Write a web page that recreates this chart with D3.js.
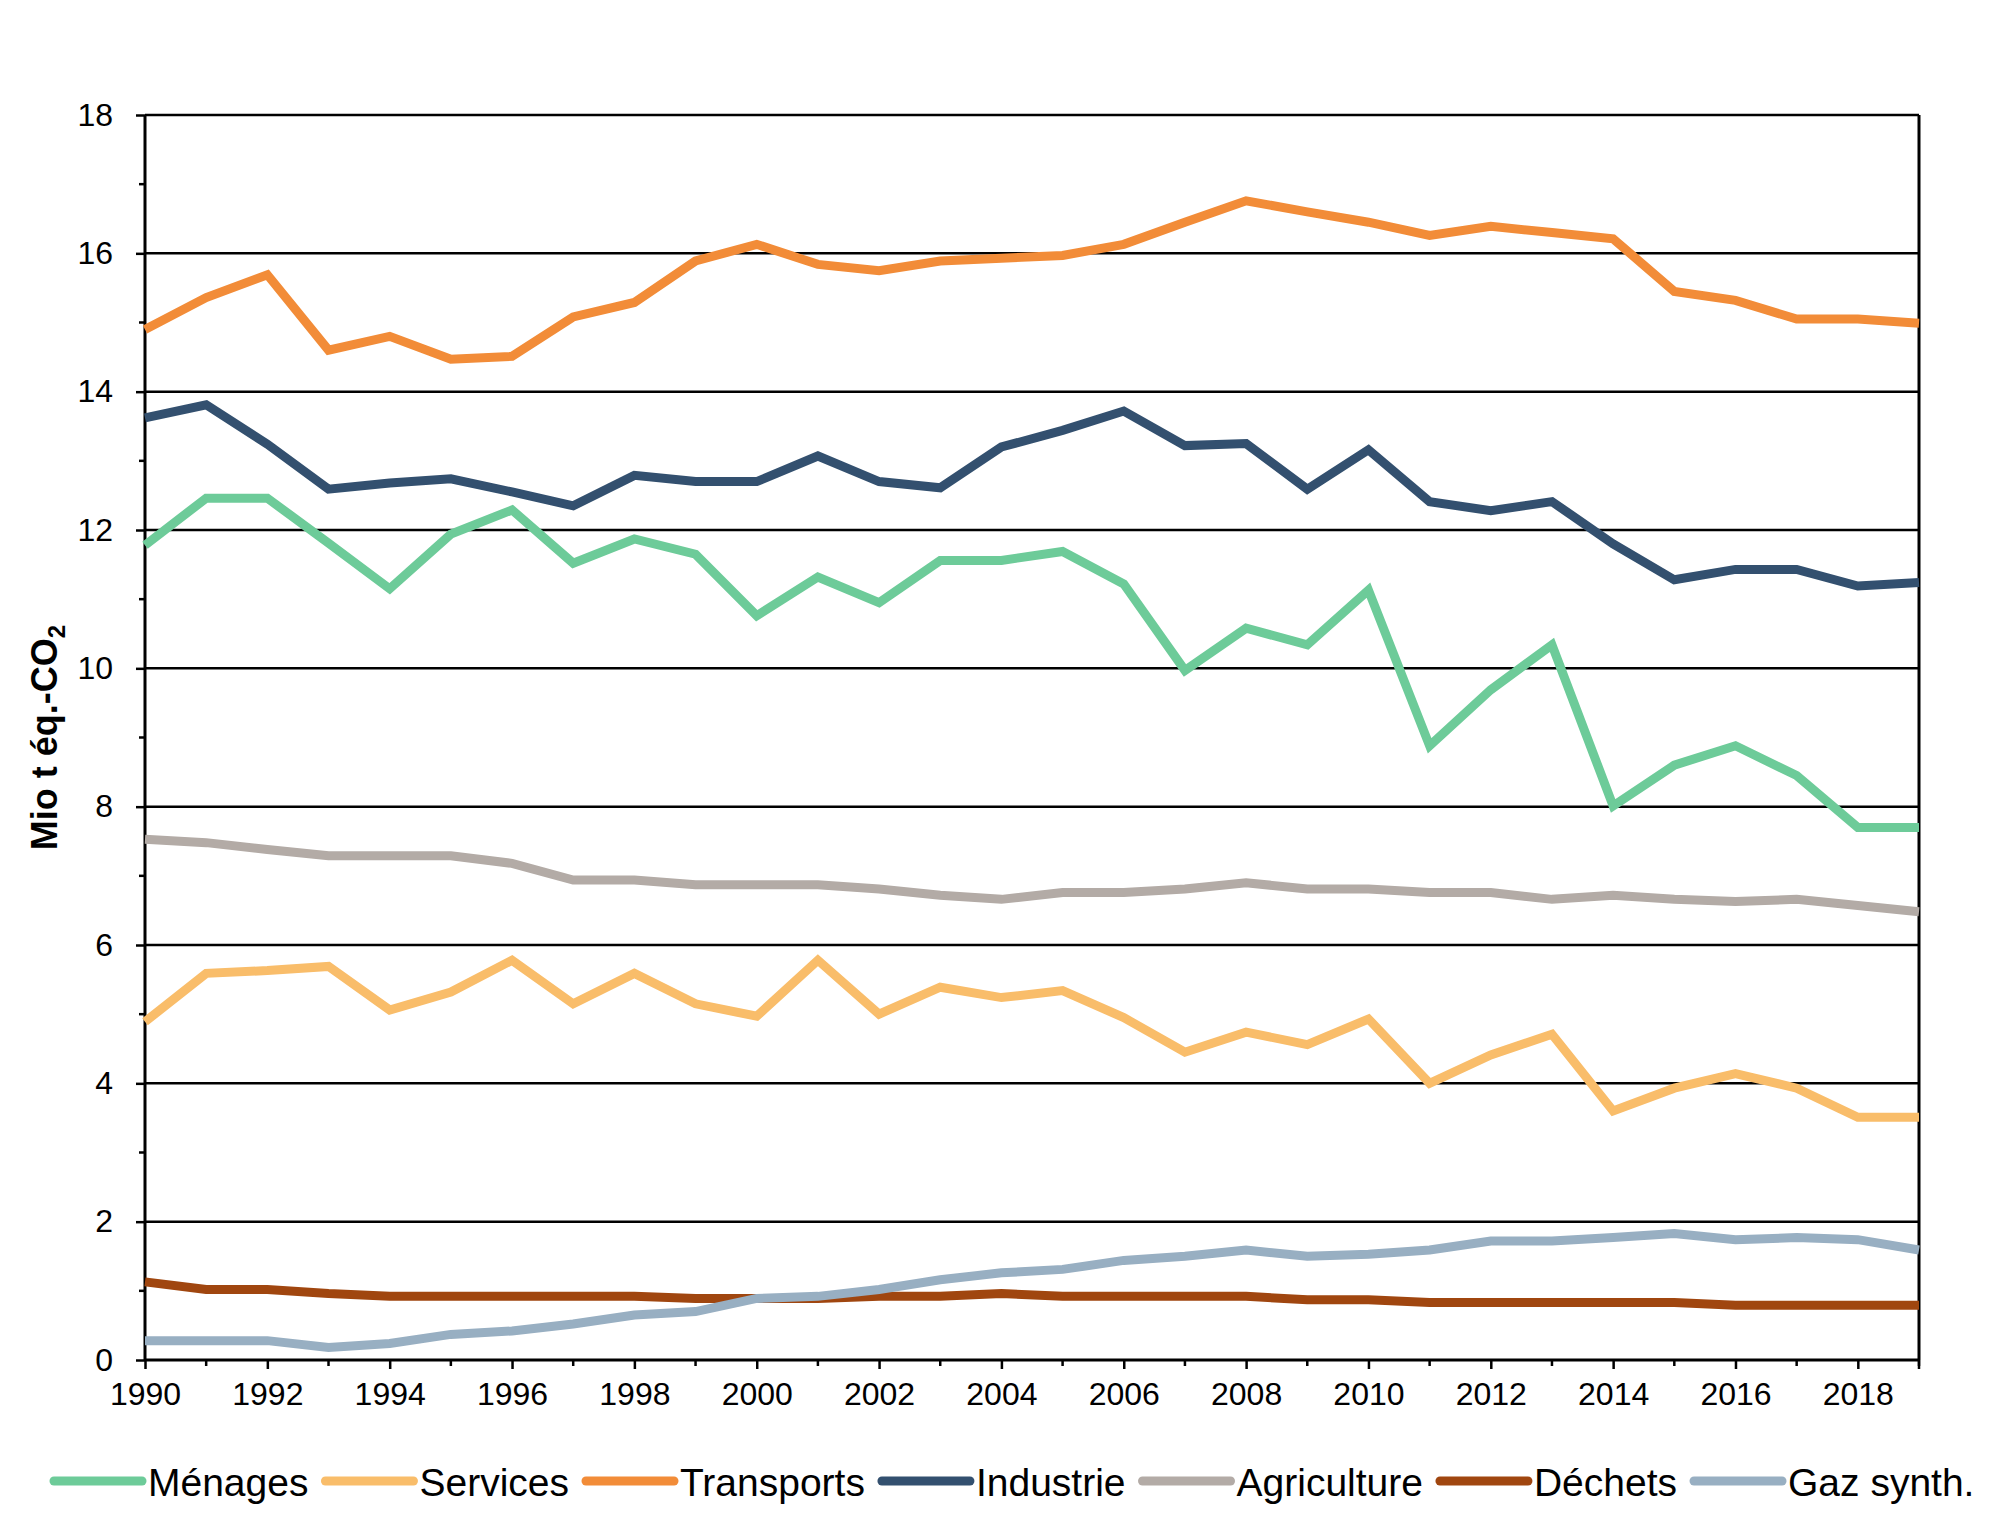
<!DOCTYPE html>
<html><head><meta charset="utf-8">
<script src="https://cdn.jsdelivr.net/npm/d3@7"></script>
<style>
html,body{margin:0;padding:0;background:#fff;}
svg{display:block;font-family:"Liberation Sans",Arial,Helvetica,sans-serif;}
</style></head>
<body>
<svg id="chart" width="2000" height="1534"></svg>
<script>
const years = d3.range(1990, 2020);
const xTickLabels = d3.range(1990, 2019, 2);
const yTicks = [0,2,4,6,8,10,12,14,16,18];

const seriesNames = ["Ménages","Services","Transports","Industrie","Agriculture","Déchets","Gaz synth."];
const seriesColors = ["#6dcb99","#f9bd6a","#f28c38","#33506f","#b3aba6","#a0460f","#98afc2"];

const menages = [11.78,12.46,12.46,11.81,11.15,11.94,12.29,11.52,11.87,11.65,10.76,11.32,10.95,11.56,11.56,11.69,11.22,9.97,10.58,10.34,11.13,8.88,9.69,10.34,8.01,8.60,8.88,8.45,7.70,7.70];
const services = [4.89,5.59,5.63,5.69,5.06,5.32,5.78,5.15,5.59,5.15,4.97,5.78,5.00,5.39,5.24,5.34,4.95,4.45,4.74,4.56,4.93,4.00,4.41,4.71,3.60,3.93,4.14,3.93,3.51,3.51];
const transports = [14.90,15.36,15.69,14.60,14.80,14.47,14.51,15.08,15.29,15.89,16.13,15.84,15.75,15.89,15.93,15.97,16.13,16.45,16.76,16.60,16.45,16.26,16.39,16.30,16.21,15.45,15.32,15.05,15.05,14.99];
const industrie = [13.62,13.81,13.24,12.59,12.68,12.74,12.55,12.35,12.79,12.70,12.70,13.07,12.70,12.61,13.20,13.44,13.72,13.22,13.25,12.59,13.16,12.41,12.28,12.41,11.80,11.28,11.43,11.43,11.19,11.24];
const agriculture = [7.53,7.48,7.38,7.29,7.29,7.29,7.18,6.94,6.94,6.87,6.87,6.87,6.81,6.72,6.66,6.76,6.76,6.81,6.90,6.81,6.81,6.76,6.76,6.66,6.72,6.66,6.63,6.66,6.57,6.48];
const dechets = [1.13,1.02,1.02,0.96,0.92,0.92,0.92,0.92,0.92,0.89,0.89,0.89,0.92,0.92,0.96,0.92,0.92,0.92,0.92,0.87,0.87,0.83,0.83,0.83,0.83,0.83,0.79,0.79,0.79,0.79];
const gazSynth = [0.28,0.28,0.28,0.18,0.24,0.37,0.42,0.52,0.65,0.70,0.89,0.92,1.02,1.16,1.26,1.31,1.44,1.50,1.59,1.50,1.53,1.59,1.72,1.72,1.77,1.83,1.74,1.77,1.74,1.59];

const seriesValues = [menages,services,transports,industrie,agriculture,dechets,gazSynth];

const L = 145, R = 1919, T = 115, B = 1360;
const svg = d3.select("#chart");
const x = d3.scaleLinear().domain([1990, 2019]).range([L, R]);
const y = d3.scaleLinear().domain([0, 18]).range([B, T]);

// gridlines
svg.append("g").selectAll("line").data(yTicks.filter(d => d > 0)).join("line")
  .attr("x1", L).attr("x2", R).attr("y1", d => y(d)).attr("y2", d => y(d))
  .attr("stroke", "#000").attr("stroke-width", 2.5);
// right border
svg.append("line").attr("x1", R).attr("x2", R).attr("y1", T).attr("y2", B)
  .attr("stroke", "#000").attr("stroke-width", 3);

// y axis
const yAxis = svg.append("g").attr("transform", `translate(${L},0)`)
  .call(d3.axisLeft(y).tickValues(yTicks).tickSize(9).tickFormat(d3.format("d")));
yAxis.select(".domain").attr("stroke-width", 3).attr("d", `M-0,${T}V${B}`);
yAxis.selectAll(".tick line").attr("stroke-width", 2.5);
yAxis.selectAll(".tick text").attr("font-size", 32).attr("font-family", "Liberation Sans, Arial, sans-serif").attr("fill", "#000").attr("x", -32);
// minor y ticks
svg.append("g").selectAll("line").data(d3.range(1, 18, 2)).join("line")
  .attr("x1", L - 6).attr("x2", L).attr("y1", d => y(d)).attr("y2", d => y(d))
  .attr("stroke", "#000").attr("stroke-width", 2.5);

// x axis
const xAxis = svg.append("g").attr("transform", `translate(0,${B})`)
  .call(d3.axisBottom(x).tickValues(xTickLabels).tickSize(9).tickFormat(d3.format("d")));
xAxis.select(".domain").attr("stroke-width", 3).attr("d", `M${L},0H${R}`);
xAxis.selectAll(".tick line").attr("stroke-width", 2.5);
xAxis.selectAll(".tick text").attr("font-size", 32).attr("font-family", "Liberation Sans, Arial, sans-serif").attr("fill", "#000").attr("y", 22);
svg.append("g").selectAll("line").data(years.filter(d => d % 2 === 1)).join("line")
  .attr("x1", d => x(d)).attr("x2", d => x(d)).attr("y1", B).attr("y2", B + 6)
  .attr("stroke", "#000").attr("stroke-width", 2.5);
svg.append("line").attr("x1", R).attr("x2", R).attr("y1", B).attr("y2", B + 9)
  .attr("stroke", "#000").attr("stroke-width", 2.5);

// series lines
const line = d3.line().x((d, i) => x(years[i])).y(d => y(d));
svg.append("g").selectAll("path").data(seriesValues).join("path")
  .attr("d", d => line(d)).attr("fill", "none")
  .attr("stroke", (d, i) => seriesColors[i]).attr("stroke-width", 9)
  .attr("stroke-linejoin", "miter").attr("stroke-linecap", "butt");

// y title
const yt = svg.append("text")
  .attr("transform", `translate(57,${(T + B) / 2}) rotate(-90)`)
  .attr("text-anchor", "middle").attr("font-size", 36).attr("font-weight", "bold").attr("fill", "#000");
yt.append("tspan").text("Mio t éq.-CO");
yt.append("tspan").text("2").attr("font-size", 24).attr("dy", 8);

// legend
const legY = 1481;
let lx = 54;
const leg = svg.append("g");
seriesNames.forEach((name, i) => {
  leg.append("line").attr("x1", lx).attr("x2", lx + 88).attr("y1", legY).attr("y2", legY)
    .attr("stroke", seriesColors[i]).attr("stroke-width", 9).attr("stroke-linecap", "round");
  const t = leg.append("text").attr("x", lx + 94).attr("y", legY + 15)
    .attr("font-size", 39).attr("fill", "#000").text(name);
  lx += 94 + t.node().getComputedTextLength() + 17;
});
</script>
</body></html>
